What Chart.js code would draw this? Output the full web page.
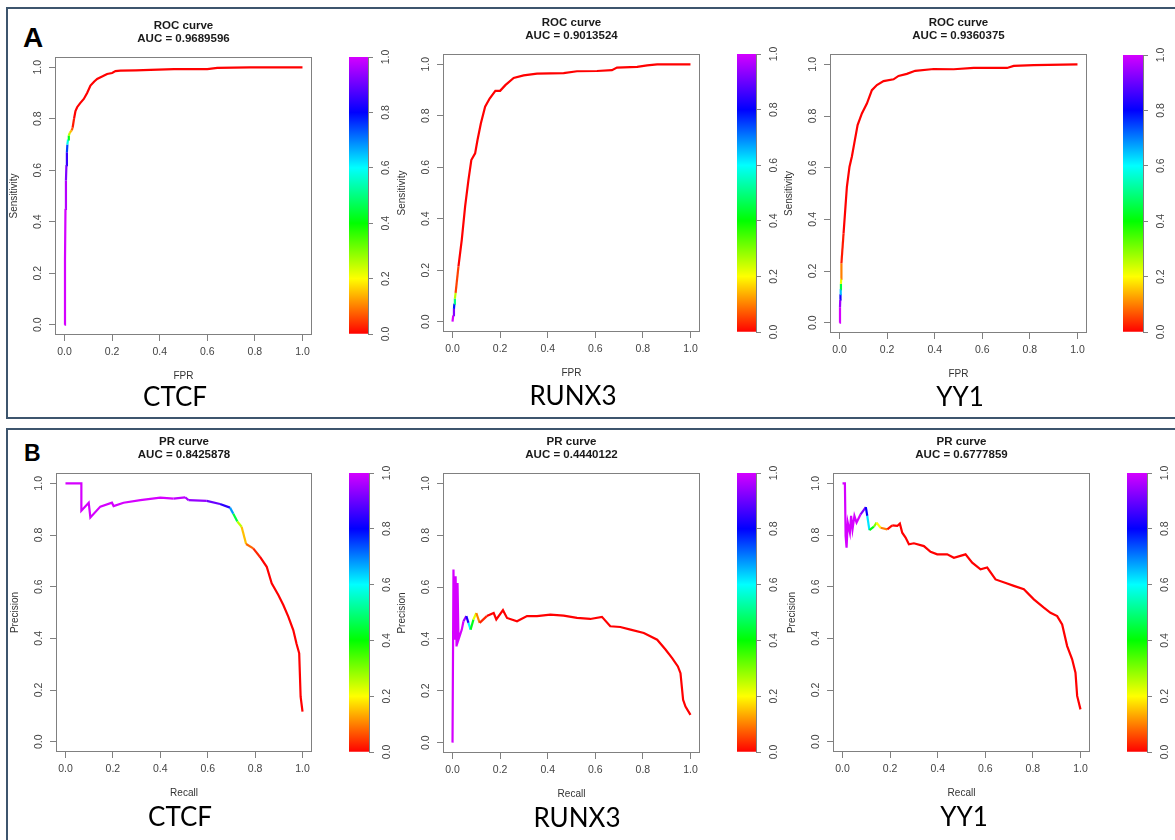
<!DOCTYPE html>
<html>
<head>
<meta charset="utf-8">
<script src="https://cdn.jsdelivr.net/npm/chart.js@4.4.1/dist/chart.umd.min.js"></script>
<style>
body { margin: 0; background: #fff; width: 1175px; height: 840px; overflow: hidden; position: relative; }
.frame { position: absolute; border: 2px solid #3d556d; box-sizing: border-box; }
.tag { position: absolute; font-family: "Liberation Sans", Arial, sans-serif; font-weight: bold; line-height: 1; color: #000; }
.gene { position: absolute; font: 26px Lato, "Open Sans", sans-serif; line-height: 1; color: #000; transform: translate(-50%, -50%); white-space: nowrap; }
canvas { position: absolute; }
</style>
</head>
<body>
<div class="frame" style="left:6px;top:7px;width:1200px;height:412px"></div>
<div class="frame" style="left:6px;top:428px;width:1200px;height:440px"></div>
<div class="tag" style="left:23px;top:24px;font-size:28px">A</div>
<div class="tag" style="left:24px;top:442px;font-size:23px">B</div>

<script>
// axis ticks shared by every panel
const tickVals = [0, 0.2, 0.4, 0.6, 0.8, 1.0];
const colorbarStops = [0, 0.1, 0.2, 0.3, 0.4, 0.5, 0.6, 0.7, 0.8, 0.9, 1.0];

// A: ROC curves (FPR, sensitivity, cutoff used for colour)
const ctcfRocFpr = [0, 0.002, 0.004, 0.006, 0.008, 0.010, 0.012, 0.015, 0.018, 0.022, 0.030, 0.034, 0.040, 0.046, 0.053, 0.065, 0.081, 0.095, 0.109, 0.125, 0.137, 0.160, 0.179, 0.200, 0.214, 0.235, 0.300, 0.361, 0.460, 0.600, 0.642, 0.780, 1.000];
const ctcfRocTpr = [0, 0.25, 0.45, 0.56, 0.62, 0.67, 0.70, 0.72, 0.735, 0.745, 0.755, 0.765, 0.80, 0.83, 0.845, 0.86, 0.877, 0.90, 0.929, 0.945, 0.955, 0.965, 0.974, 0.978, 0.985, 0.987, 0.988, 0.990, 0.993, 0.993, 0.998, 1.0, 1.0];
const ctcfRocCut = [1, 1, 0.97, 0.92, 0.85, 0.75, 0.58, 0.42, 0.25, 0.15, 0.07, 0.02, 0, 0, 0, 0, 0, 0, 0, 0, 0, 0, 0, 0, 0, 0, 0, 0, 0, 0, 0, 0, 0];

const runx3RocFpr = [0, 0.003, 0.006, 0.008, 0.010, 0.013, 0.025, 0.039, 0.053, 0.067, 0.079, 0.095, 0.105, 0.119, 0.137, 0.156, 0.180, 0.200, 0.222, 0.257, 0.299, 0.355, 0.467, 0.523, 0.607, 0.670, 0.691, 0.776, 0.818, 0.860, 1.0];
const runx3RocTpr = [0, 0.025, 0.05, 0.07, 0.09, 0.112, 0.215, 0.319, 0.448, 0.551, 0.628, 0.654, 0.706, 0.77, 0.835, 0.867, 0.897, 0.897, 0.919, 0.947, 0.957, 0.964, 0.966, 0.973, 0.974, 0.977, 0.987, 0.99, 0.996, 1.0, 1.0];
const runx3RocCut = [1, 0.92, 0.78, 0.5, 0.25, 0.05, 0, 0, 0, 0, 0, 0, 0, 0, 0, 0, 0, 0, 0, 0, 0, 0, 0, 0, 0, 0, 0, 0, 0, 0, 0];

const yy1RocFpr = [0, 0.002, 0.003, 0.004, 0.005, 0.006, 0.007, 0.008, 0.017, 0.025, 0.031, 0.042, 0.052, 0.062, 0.076, 0.094, 0.115, 0.136, 0.157, 0.185, 0.227, 0.248, 0.283, 0.318, 0.396, 0.48, 0.564, 0.704, 0.732, 0.816, 1.0];
const yy1RocTpr = [0, 0.06, 0.09, 0.11, 0.13, 0.15, 0.17, 0.23, 0.346, 0.449, 0.526, 0.604, 0.643, 0.694, 0.765, 0.81, 0.848, 0.9, 0.92, 0.935, 0.942, 0.955, 0.963, 0.975, 0.982, 0.981, 0.986, 0.986, 0.994, 0.997, 1.0];
const yy1RocCut = [1, 0.95, 0.82, 0.65, 0.45, 0.22, 0.1, 0.02, 0, 0, 0, 0, 0, 0, 0, 0, 0, 0, 0, 0, 0, 0, 0, 0, 0, 0, 0, 0, 0, 0, 0];

// B: PR curves (recall, precision, cutoff)
const ctcfPrRecall = [0, 0.067, 0.067, 0.098, 0.105, 0.147, 0.196, 0.203, 0.245, 0.316, 0.4, 0.456, 0.505, 0.519, 0.596, 0.652, 0.694, 0.708, 0.725, 0.743, 0.762, 0.792, 0.82, 0.849, 0.87, 0.898, 0.919, 0.94, 0.961, 0.975, 0.986, 0.992, 1.0];
const ctcfPrPrec = [1.0, 1.0, 0.894, 0.925, 0.868, 0.91, 0.925, 0.912, 0.925, 0.935, 0.945, 0.941, 0.946, 0.935, 0.932, 0.92, 0.906, 0.882, 0.852, 0.832, 0.765, 0.748, 0.716, 0.677, 0.613, 0.568, 0.529, 0.484, 0.432, 0.378, 0.342, 0.174, 0.116];
const ctcfPrCut = [1, 1, 1, 1, 1, 1, 1, 1, 1, 1, 1, 0.98, 0.96, 0.94, 0.9, 0.84, 0.68, 0.45, 0.25, 0.15, 0.08, 0.03, 0, 0, 0, 0, 0, 0, 0, 0, 0, 0, 0];

const runx3PrRecall = [0, 0.004, 0.008, 0.013, 0.017, 0.021, 0.025, 0.039, 0.046, 0.058, 0.067, 0.076, 0.088, 0.1, 0.114, 0.144, 0.173, 0.184, 0.212, 0.229, 0.271, 0.313, 0.355, 0.411, 0.467, 0.523, 0.579, 0.628, 0.663, 0.705, 0.748, 0.804, 0.86, 0.895, 0.923, 0.947, 0.958, 0.969, 0.979, 1.0];
const runx3PrPrec = [0, 0.668, 0.397, 0.642, 0.371, 0.616, 0.397, 0.436, 0.468, 0.488, 0.462, 0.436, 0.475, 0.5, 0.462, 0.488, 0.5, 0.475, 0.511, 0.481, 0.468, 0.488, 0.488, 0.494, 0.49, 0.481, 0.477, 0.485, 0.449, 0.446, 0.436, 0.423, 0.397, 0.359, 0.326, 0.294, 0.268, 0.165, 0.139, 0.107];
const runx3PrCut = [1, 1, 1, 1, 1, 1, 1, 1, 0.95, 0.82, 0.6, 0.42, 0.22, 0.1, 0.03, 0, 0, 0, 0, 0, 0, 0, 0, 0, 0, 0, 0, 0, 0, 0, 0, 0, 0, 0, 0, 0, 0, 0, 0, 0];

const yy1PrRecall = [0, 0.01, 0.013, 0.017, 0.022, 0.031, 0.036, 0.042, 0.05, 0.059, 0.076, 0.098, 0.104, 0.113, 0.132, 0.143, 0.16, 0.188, 0.209, 0.23, 0.241, 0.251, 0.265, 0.279, 0.3, 0.342, 0.37, 0.398, 0.44, 0.468, 0.517, 0.545, 0.58, 0.608, 0.643, 0.692, 0.72, 0.762, 0.804, 0.846, 0.874, 0.902, 0.923, 0.944, 0.965, 0.979, 0.986, 1.0];
const yy1PrPrec = [1.0, 1.0, 0.796, 0.751, 0.848, 0.809, 0.874, 0.822, 0.874, 0.848, 0.88, 0.908, 0.874, 0.819, 0.832, 0.848, 0.828, 0.822, 0.837, 0.835, 0.844, 0.809, 0.79, 0.764, 0.768, 0.757, 0.735, 0.725, 0.725, 0.712, 0.725, 0.693, 0.667, 0.674, 0.628, 0.612, 0.603, 0.59, 0.551, 0.519, 0.499, 0.486, 0.454, 0.37, 0.319, 0.267, 0.177, 0.125];
const yy1PrCut = [1, 1, 1, 1, 1, 1, 1, 1, 1, 1, 0.92, 0.8, 0.62, 0.42, 0.3, 0.2, 0.1, 0.01, 0, 0, 0, 0, 0, 0, 0, 0, 0, 0, 0, 0, 0, 0, 0, 0, 0, 0, 0, 0, 0, 0, 0, 0, 0, 0, 0, 0, 0, 0];

const FONT = '"Liberation Sans", Arial, sans-serif';

function rainbow(v) {
    const h = v <= 0.8 ? 300 * v : 240 + (v - 0.8) * 250;
    return 'hsl(' + h + ',100%,50%)';
}

// frame box + rotated y tick labels, the way R draws them
const rAxes = {
    id: 'rAxes',
    afterDraw(chart, args, opts) {
        const { ctx, chartArea: a } = chart;
        const ys = chart.scales.y;
        ctx.save();
        if (opts.frame) {
            ctx.strokeStyle = '#808080';
            ctx.lineWidth = 1;
            ctx.strokeRect(a.left + 0.5, a.top + 0.5, a.width - 1, a.height - 1);
        }
        ctx.fillStyle = '#444';
        ctx.font = '10.5px ' + FONT;
        ctx.textAlign = 'center';
        ctx.textBaseline = 'middle';
        ys.ticks.forEach(t => {
            const px = opts.side === 'right' ? a.right + opts.off : a.left - opts.off;
            ctx.save();
            ctx.translate(px, ys.getPixelForValue(t.value));
            ctx.rotate(-Math.PI / 2);
            ctx.fillText(t.value.toFixed(1), 0, 0);
            ctx.restore();
        });
        ctx.restore();
    }
};

function addCanvas(left, top, w, h) {
    const cv = document.createElement('canvas');
    cv.width = w; cv.height = h;
    cv.style.left = left + 'px'; cv.style.top = top + 'px';
    cv.style.width = w + 'px'; cv.style.height = h + 'px';
    document.body.appendChild(cv);
    return cv;
}

function makePanel(p) {
    const [l, t, r, b] = p.box;
    const cv = addCanvas(l - 52, t - 52, (r - l) + 60, (b - t) + 104);
    const pts = p.x.map((x, i) => ({ x: x, y: p.y[i] }));

    new Chart(cv, {
        type: 'line',
        data: {
            datasets: [{
                data: pts,
                borderWidth: 2.2,
                pointRadius: 0,
                tension: 0,
                fill: false,
                borderColor: '#ff0000',
                segment: { borderColor: ctx => rainbow(p.cut[ctx.p0DataIndex]) }
            }]
        },
        options: {
            responsive: false,
            animation: false,
            devicePixelRatio: 1,
            events: [],
            layout: { padding: { left: 0, right: 8, top: 0, bottom: 0 } },
            plugins: {
                legend: { display: false },
                tooltip: { enabled: false },
                title: {
                    display: true,
                    fullSize: false,
                    text: [p.title, 'AUC = ' + p.auc],
                    color: '#1a1a1a',
                    font: { family: FONT, size: 11.5, weight: 'bold', lineHeight: 13 / 11.5 },
                    padding: { top: 14.5, bottom: 11.5 }
                },
                rAxes: { frame: true, side: 'left', off: 17 }
            },
            scales: {
                x: {
                    type: 'linear', min: -0.04, max: 1.04,
                    afterBuildTicks: s => { s.ticks = tickVals.map(v => ({ value: v })); },
                    afterFit: s => { s.height = 52; s.paddingLeft = 0; s.paddingRight = 0; },
                    ticks: { callback: v => v.toFixed(1), color: '#444', font: { family: FONT, size: 10.5 }, padding: 5, maxRotation: 0, autoSkip: false },
                    grid: { drawOnChartArea: false, tickLength: 6, color: '#808080' },
                    border: { display: false },
                    title: { display: true, text: p.xlab, color: '#333', font: { family: FONT, size: 10, lineHeight: 1.2 }, padding: { top: 0, bottom: 5 } }
                },
                y: {
                    type: 'linear', min: -0.04, max: 1.04,
                    afterBuildTicks: s => { s.ticks = tickVals.map(v => ({ value: v })); },
                    afterFit: s => { s.width = 52; s.paddingTop = 0; s.paddingBottom = 0; },
                    ticks: { display: false },
                    grid: { drawOnChartArea: false, tickLength: 6, color: '#808080' },
                    border: { display: false },
                    title: { display: true, text: p.ylab, color: '#333', font: { family: FONT, size: 10, lineHeight: 1.2 }, padding: { top: 5, bottom: 0 } }
                }
            }
        },
        plugins: [rAxes]
    });

    // colour key for the cutoff
    const [bl, bt, br, bb] = p.bar;
    const cb = addCanvas(bl, bt - 20, (br - bl) + 40, (bb - bt) + 40);
    new Chart(cb, {
        type: 'bar',
        data: {
            labels: [''],
            datasets: [{
                data: [[0, 1]],
                barPercentage: 1,
                categoryPercentage: 1,
                borderWidth: 0,
                backgroundColor: ctx => {
                    const ys = ctx.chart.scales.y;
                    const y0 = ys ? ys.getPixelForValue(0) : NaN;
                    const y1 = ys ? ys.getPixelForValue(1) : NaN;
                    if (!isFinite(y0) || !isFinite(y1)) return '#ff0000';
                    const g = ctx.chart.ctx.createLinearGradient(0, y0, 0, y1);
                    colorbarStops.forEach(v => g.addColorStop(v, rainbow(v)));
                    return g;
                }
            }]
        },
        options: {
            responsive: false,
            animation: false,
            devicePixelRatio: 1,
            events: [],
            layout: { padding: { left: 0, right: 0, top: 20, bottom: 20 } },
            plugins: {
                legend: { display: false },
                tooltip: { enabled: false },
                rAxes: { frame: false, side: 'right', off: 18 }
            },
            scales: {
                x: { display: false },
                y: {
                    position: 'right', min: 0, max: 1,
                    afterBuildTicks: s => { s.ticks = tickVals.map(v => ({ value: v })); },
                    afterFit: s => { s.width = 40; s.paddingTop = 0; s.paddingBottom = 0; },
                    ticks: { display: false },
                    grid: { drawOnChartArea: false, tickLength: 5, color: '#808080' },
                    border: { display: true, color: '#808080' }
                }
            }
        },
        plugins: [rAxes]
    });

    const g = document.createElement('div');
    g.className = 'gene';
    g.textContent = p.gene;
    g.style.left = p.geneAt[0] + 'px';
    g.style.top = p.geneAt[1] + 'px';
    document.body.appendChild(g);
}

const panels = [
    { title: 'ROC curve', auc: '0.9689596', xlab: 'FPR', ylab: 'Sensitivity', gene: 'CTCF', x: ctcfRocFpr, y: ctcfRocTpr, cut: ctcfRocCut, box: [55, 57, 312, 335], bar: [349, 57, 368, 334], geneAt: [175, 396] },
    { title: 'ROC curve', auc: '0.9013524', xlab: 'FPR', ylab: 'Sensitivity', gene: 'RUNX3', x: runx3RocFpr, y: runx3RocTpr, cut: runx3RocCut, box: [443, 54, 700, 332], bar: [737, 54, 756, 332], geneAt: [573, 395] },
    { title: 'ROC curve', auc: '0.9360375', xlab: 'FPR', ylab: 'Sensitivity', gene: 'YY1', x: yy1RocFpr, y: yy1RocTpr, cut: yy1RocCut, box: [830, 54, 1087, 333], bar: [1123, 55, 1143, 332], geneAt: [960, 396] },
    { title: 'PR curve', auc: '0.8425878', xlab: 'Recall', ylab: 'Precision', gene: 'CTCF', x: ctcfPrRecall, y: ctcfPrPrec, cut: ctcfPrCut, box: [56, 473, 312, 752], bar: [349, 473, 369, 752], geneAt: [180, 816] },
    { title: 'PR curve', auc: '0.4440122', xlab: 'Recall', ylab: 'Precision', gene: 'RUNX3', x: runx3PrRecall, y: runx3PrPrec, cut: runx3PrCut, box: [443, 473, 700, 753], bar: [737, 473, 756, 752], geneAt: [577, 817] },
    { title: 'PR curve', auc: '0.6777859', xlab: 'Recall', ylab: 'Precision', gene: 'YY1', x: yy1PrRecall, y: yy1PrPrec, cut: yy1PrCut, box: [833, 473, 1090, 752], bar: [1127, 473, 1147, 752], geneAt: [964, 816] }
];

panels.forEach(makePanel);
</script>
</body>
</html>
